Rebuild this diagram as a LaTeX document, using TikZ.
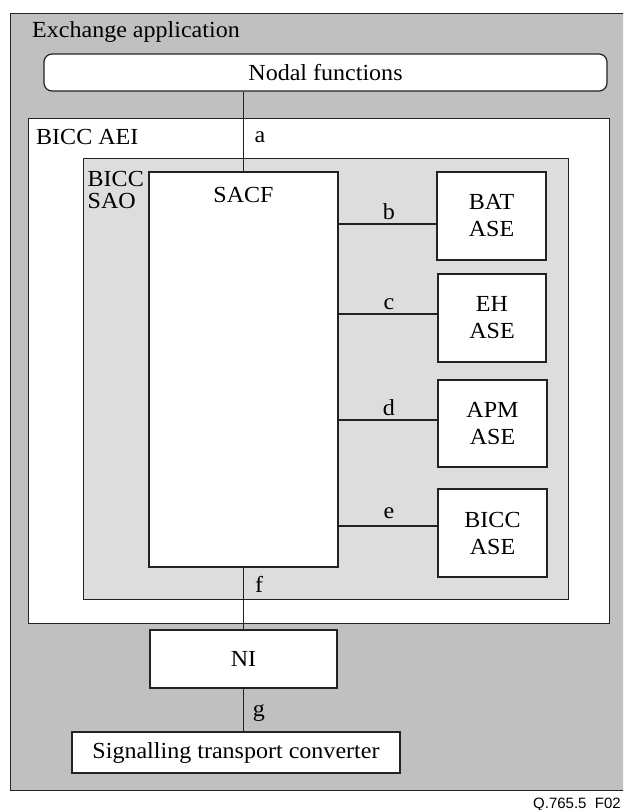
\documentclass[tikz,border=0pt]{standalone}
\usepackage{fontspec}
\setmainfont[FakeStretch=1.045]{Liberation Serif}
\newfontfamily\labelsans{Liberation Sans}
\definecolor{outergray}{HTML}{C0C0C0}
\definecolor{saogray}{HTML}{DDDDDD}
\definecolor{linecol}{HTML}{222222}
\begin{document}
\begin{tikzpicture}[x=1pt,y=-1pt,
  every node/.style={font=\rmfamily\fontsize{23}{27}\selectfont, inner sep=0pt},
  box/.style={draw=linecol, line width=1.2pt, fill=white, align=center, anchor=center},
  conn/.style={draw=linecol, line width=1.2pt},
  lbl/.style={anchor=center}]
\useasboundingbox (0,0) rectangle (623,810);
\clip (0,0) rectangle (623,810);
% outer container
\node[draw=linecol, line width=1.2pt, fill=outergray, minimum width=630.5pt, minimum height=777pt, anchor=north west] (exch) at (9.5,13) {};
\node[anchor=west] (exchlbl) at (32,32) {Exchange application};
% nodal functions
\node[box, rounded corners=8pt, minimum width=563pt, minimum height=37pt] (nodal) at (325.5,72.5) {Nodal functions};
% BICC AEI
\node[draw=linecol, line width=1.2pt, fill=white, minimum width=581pt, minimum height=505pt, anchor=north west] (aei) at (28,118) {};
\node[anchor=west] (aeilbl) at (36,137) {BICC AEI};
% BICC SAO
\node[draw=linecol, line width=1.2pt, fill=saogray, minimum width=485pt, minimum height=441pt, anchor=north west] (sao) at (83,158) {};
\node[anchor=base west, align=left, font=\rmfamily\fontsize{23}{21}\selectfont] (saolbl) at (87.5,208) {BICC\\SAO};
% SACF
\node[box, minimum width=189pt, minimum height=395pt] (sacf) at (243.5,369.5) {};
\node[lbl] (sacflbl) at (243.5,195) {SACF};
% ASEs
\node[box, minimum width=109pt, minimum height=88pt] (bat) at (491.5,216) {BAT\\ASE};
\node[box, minimum width=108pt, minimum height=88pt] (eh) at (492,318) {EH\\ASE};
\node[box, minimum width=109pt, minimum height=87pt] (apm) at (492.5,423.5) {APM\\ASE};
\node[box, minimum width=109pt, minimum height=88pt] (bicc) at (492.5,533) {BICC\\ASE};
% NI and converter
\node[box, minimum width=187pt, minimum height=58pt] (ni) at (243.5,659) {NI};
\node[box, minimum width=328pt, minimum height=41pt] (stc) at (236,752.5) {Signalling transport converter};
% junction points on the ASE boxes
\coordinate (jb) at (437,224);
\coordinate (jc) at (438,314);
\coordinate (jd) at (438,420);
\coordinate (je) at (438,526);
% connectors
\draw[conn] (sacf.north |- nodal.south) -- (sacf.north);
\draw[conn] (sacf.south) -- (ni.north);
\draw[conn] (ni.south) -- (ni.south |- stc.north);
\draw[conn] (jb -| sacf.east) -- (jb);
\draw[conn] (jc -| sacf.east) -- (jc);
\draw[conn] (jd -| sacf.east) -- (jd);
\draw[conn] (je -| sacf.east) -- (je);
% labels
\node[lbl] (la) at (260,137) {a};
\node[lbl] (lb) at (389,212) {b};
\node[lbl] (lc) at (389,304) {c};
\node[lbl] (ld) at (389,408) {d};
\node[lbl] (le) at (389,513) {e};
\node[lbl] (lf) at (259,584) {f};
\node[lbl] (lg) at (259,713) {g};
\node[anchor=base west, font=\labelsans\fontsize{15}{17}\selectfont] (fig) at (533,808) {Q.765.5\_F02};
\end{tikzpicture}
\end{document}
